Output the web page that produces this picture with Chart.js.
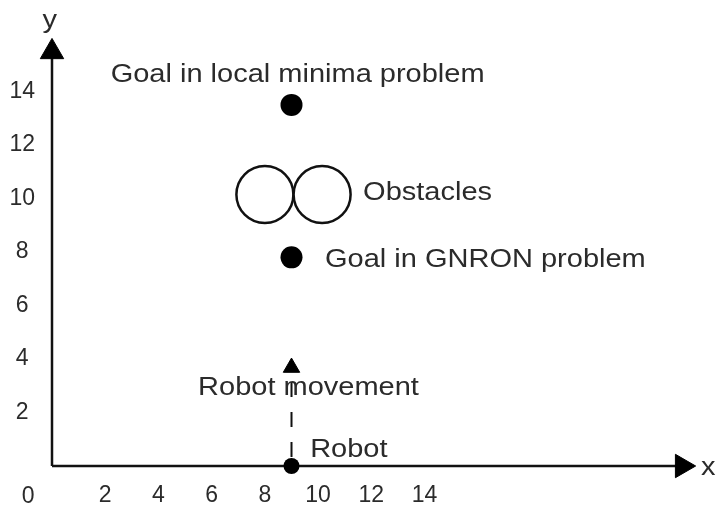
<!DOCTYPE html>
<html>
<head>
<meta charset="utf-8">
<title>Robot goal problems</title>
<script src="https://cdn.jsdelivr.net/npm/chart.js@4.4.0/dist/chart.umd.min.js"></script>
<style>
  html, body { margin: 0; padding: 0; background: #fff; }
</style>
</head>
<body>
<canvas id="robotChart" width="716" height="507"></canvas>
<script>
// tick labels and axis ranges
var xTicks = [2, 4, 6, 8, 10, 12, 14];
var yTicks = [2, 4, 6, 8, 10, 12, 14];
var xRange = [0, 24.2];
var yRange = [0, 16];

// goals and robot (filled dots)
var goalX = [9, 9, 9];
var goalY = [13.5, 7.8, 0];

// the two obstacles
var obstacleX = [8, 10.15];
var obstacleY = [10.15, 10.15];

// robot movement arrow (dashed)
var moveX = [9, 9];
var moveY = [0, 3.68];

// axis arrows
var axisLineX = [0, 23.68];
var axisLineY = [0, 15.48];

// notes written on the picture
var noteText = ["Goal in local minima problem", "Obstacles", "Goal in GNRON problem", "Robot movement", "Robot", "x", "y"];
var noteX = [9.23, 11.69, 10.26, 5.49, 9.7, 24.66, -0.08];
var noteY = [14.36, 9.94, 7.44, 2.65, 0.34, -0.34, 16.37];
var noteAlign = ["center", "left", "left", "left", "left", "center", "center"];

// origin label
var originText = "0";
var originX = -0.9;
var originY = -1.38;

var textColor = "#2b2b2b";
var family = "'Liberation Sans', Arial, sans-serif";

function pts(xs, ys) {
  var out = [];
  for (var i = 0; i < xs.length; i++) {
    out.push({ x: xs[i], y: ys[i] });
  }
  return out;
}

var notesPlugin = {
  id: "notes",
  afterDatasetsDraw: function (chart) {
    var ctx = chart.ctx;
    var xs = chart.scales.x;
    var ys = chart.scales.y;
    ctx.save();
    ctx.fillStyle = textColor;
    ctx.textBaseline = "alphabetic";
    ctx.font = "25px " + family;
    for (var i = 0; i < noteText.length; i++) {
      ctx.save();
      ctx.translate(xs.getPixelForValue(noteX[i]), ys.getPixelForValue(noteY[i]));
      ctx.scale(1.16, 1);
      ctx.textAlign = noteAlign[i];
      ctx.fillText(noteText[i], 0, 0);
      ctx.restore();
    }
    ctx.font = "23px " + family;
    ctx.textAlign = "center";
    ctx.fillText(originText, xs.getPixelForValue(originX), ys.getPixelForValue(originY));
    ctx.restore();
  }
};

var ctx = document.getElementById("robotChart").getContext("2d");
var chart = new Chart(ctx, {
  type: "scatter",
  data: {
    datasets: [
      {
        data: pts(goalX, goalY),
        pointRadius: [11, 11, 8],
        pointBackgroundColor: "#000",
        pointBorderWidth: 0,
        clip: false
      },
      {
        data: pts(obstacleX, obstacleY),
        pointRadius: 28.5,
        pointBackgroundColor: "#fff",
        pointBorderColor: "#111",
        pointBorderWidth: 2.5,
        clip: false
      },
      {
        data: pts(moveX, moveY),
        showLine: true,
        borderColor: "#111",
        borderWidth: 2,
        borderDash: [15, 15],
        borderDashOffset: 21,
        pointStyle: "triangle",
        pointRadius: [0, 9.5],
        pointRotation: 0,
        pointBackgroundColor: "#000",
        pointBorderColor: "#000",
        pointBorderWidth: 1,
        clip: false
      },
      {
        data: [{ x: axisLineX[0], y: 0 }, { x: axisLineX[1], y: 0 }],
        showLine: true,
        borderColor: "#111",
        borderWidth: 2.5,
        pointStyle: "triangle",
        pointRadius: [0, 13.5],
        pointRotation: 90,
        pointBackgroundColor: "#000",
        pointBorderColor: "#000",
        pointBorderWidth: 1,
        clip: false
      },
      {
        data: [{ x: 0, y: axisLineY[0] }, { x: 0, y: axisLineY[1] }],
        showLine: true,
        borderColor: "#111",
        borderWidth: 2.5,
        pointStyle: "triangle",
        pointRadius: [0, 13.5],
        pointRotation: 0,
        pointBackgroundColor: "#000",
        pointBorderColor: "#000",
        pointBorderWidth: 1,
        clip: false
      }
    ]
  },
  options: {
    responsive: false,
    animation: false,
    events: [],
    layout: { autoPadding: false, padding: { top: 38, right: 20, left: 0, bottom: 0 } },
    plugins: {
      legend: { display: false },
      tooltip: { enabled: false }
    },
    scales: {
      x: {
        type: "linear",
        min: xRange[0],
        max: xRange[1],
        grid: { display: false, drawTicks: false },
        border: { display: false },
        afterBuildTicks: function (axis) {
          axis.ticks = xTicks.map(function (v) { return { value: v }; });
        },
        afterFit: function (axis) { axis.height = 41; },
        ticks: {
          padding: 16,
          color: textColor,
          autoSkip: false,
          maxRotation: 0,
          font: { size: 23, family: family }
        }
      },
      y: {
        type: "linear",
        min: yRange[0],
        max: yRange[1],
        grid: { display: false, drawTicks: false },
        border: { display: false },
        afterBuildTicks: function (axis) {
          axis.ticks = yTicks.map(function (v) { return { value: v }; });
        },
        afterFit: function (axis) { axis.width = 52; },
        ticks: {
          padding: 17,
          crossAlign: "center",
          color: textColor,
          autoSkip: false,
          font: { size: 23, family: family }
        }
      }
    }
  },
  plugins: [notesPlugin]
});
</script>
</body>
</html>
